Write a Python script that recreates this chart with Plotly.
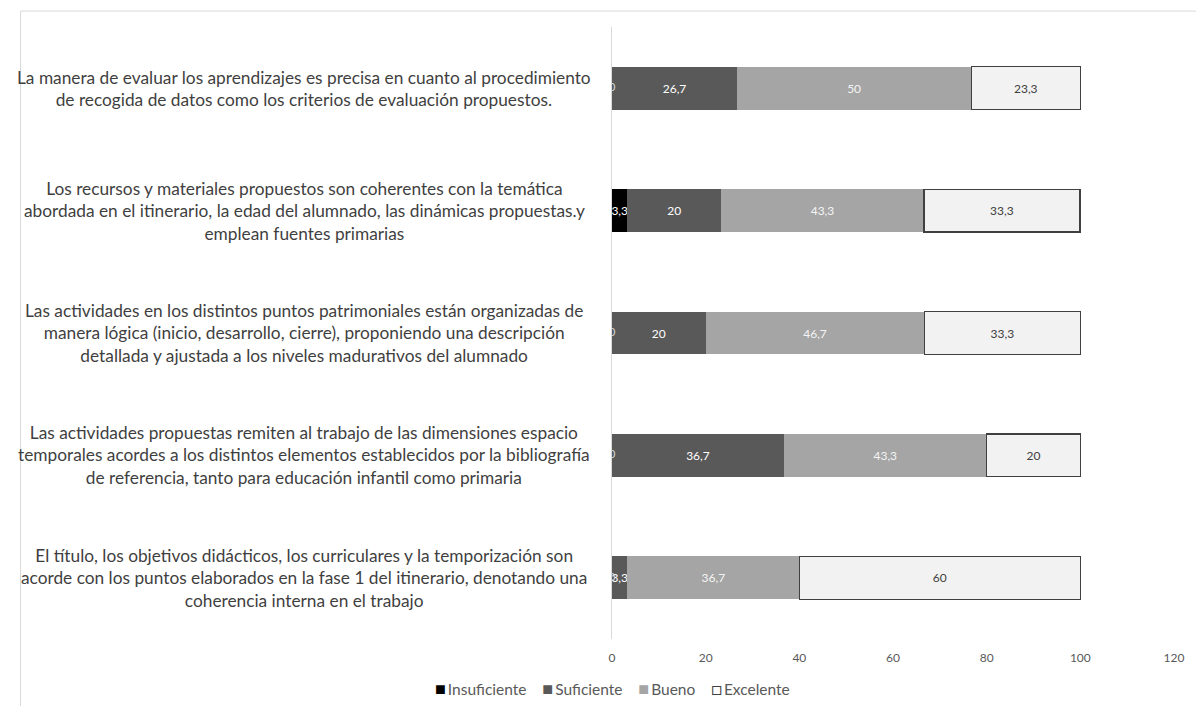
import plotly.graph_objects as go

# Wrapped question texts, one list of lines per row (top to bottom)
label_lines = [
    ["La manera de evaluar los aprendizajes es precisa en cuanto al procedimiento",
     "de recogida de datos como los criterios de evaluación propuestos."],
    ["Los recursos y materiales propuestos son coherentes con la temática",
     "abordada en el itinerario, la edad del alumnado, las dinámicas propuestas.y",
     "emplean fuentes primarias"],
    ["Las actividades en los distintos puntos patrimoniales están organizadas de",
     "manera lógica (inicio, desarrollo, cierre), proponiendo una descripción",
     "detallada y ajustada a los niveles madurativos del alumnado"],
    ["Las actividades propuestas remiten al trabajo de las dimensiones espacio",
     "temporales acordes a los distintos elementos establecidos por la bibliografía",
     "de referencia, tanto para educación infantil como primaria"],
    ["El título, los objetivos didácticos, los curriculares y la temporización son",
     "acorde con los puntos elaborados en la fase 1 del itinerario, denotando una",
     "coherencia interna en el trabajo"],
]
categories = [" ".join(lines) for lines in label_lines]

insuficiente = [0, 3.3, 0, 0, 0]
suficiente = [26.7, 20, 20, 36.7, 3.3]
bueno = [50, 43.3, 46.7, 43.3, 36.7]
excelente = [23.3, 33.3, 33.3, 20, 60]

x_ticks = [0, 20, 40, 60, 80, 100, 120]

FONT = "Lato"


def fmt(v):
    return f"{v:g}".replace(".", ",")


# name, values, fill, label colour, outline, legend key glyph
series = [
    ("Insuficiente", insuficiente, "#000000", "#ffffff", None, "■"),
    ("Suficiente", suficiente, "#595959", "#ffffff", None, "■"),
    ("Bueno", bueno, "#a5a5a5", "#f4f4f4", None, "■"),
    ("Excelente", excelente, "#f2f2f2", "#404040", "#404040", "□"),
]

fig = go.Figure()
for name, vals, color, txtcolor, edge, _ in series:
    fig.add_trace(go.Bar(
        name=name,
        y=categories,
        x=vals,
        orientation="h",
        marker=dict(color=color,
                    line=dict(color=edge or color, width=1.3 if edge else 0)),
        text=[fmt(v) for v in vals],
        textposition="inside",
        insidetextanchor="middle",
        textangle=0,
        constraintext="none",
        textfont=dict(family=FONT, size=12, color=txtcolor),
        cliponaxis=True,
        showlegend=False,
        hoverinfo="x+name",
    ))

# zero-width "Insuficiente" segments still carry their value label at the axis
zero_rows = [c for c, v in zip(categories, insuficiente) if v == 0]
fig.add_trace(go.Scatter(
    x=[0] * len(zero_rows),
    y=zero_rows,
    mode="text",
    text=[fmt(0)] * len(zero_rows),
    textposition="middle center",
    textfont=dict(family=FONT, size=12, color="#d4d4d4"),
    cliponaxis=True,
    showlegend=False,
    hoverinfo="skip",
))

# question texts, centred in the left-hand column
for cat, lines in zip(categories, label_lines):
    fig.add_annotation(
        x=-0.548, xref="paper", y=cat, yref="y",
        text="<br>".join(lines),
        showarrow=False,
        xanchor="center", yanchor="middle", align="center",
        font=dict(family=FONT, size=17.3, color="#3f3f3f"),
    )

# compact legend row: coloured key glyph followed by the series name
legend_items = []
for name, _, color, _, edge, glyph in series:
    key_color = edge or color
    legend_items.append(
        f"<span style='color:{key_color};font-size:18px'>{glyph}</span>\u2009{name}")
fig.add_annotation(
    x=0.0, xref="paper", y=-0.08, yref="paper",
    text="\u00a0\u00a0\u00a0\u00a0".join(legend_items),
    showarrow=False, xanchor="center", yanchor="middle",
    font=dict(family=FONT, size=15.5, color="#595959"),
)

# thin outer frame (top and left edges fall inside the page)
fig.add_shape(type="rect", xref="paper", yref="paper",
              x0=-1.0524, x1=1.06, y0=-0.16, y1=1.026,
              line=dict(color="#d9d9d9", width=1), fillcolor="rgba(0,0,0,0)")

fig.update_layout(
    barmode="stack",
    bargap=0.65,
    width=1196, height=706,
    margin=dict(l=612, r=12, t=27, b=67),
    paper_bgcolor="white",
    plot_bgcolor="white",
    font=dict(family=FONT, color="#595959"),
    showlegend=False,
    xaxis=dict(range=[0, 120], tickvals=x_ticks, ticktext=[str(t) for t in x_ticks],
               showgrid=False, zeroline=False, showline=False, ticks="",
               ticklabelstandoff=10,
               tickfont=dict(family=FONT, size=12, color="#595959")),
    yaxis=dict(autorange="reversed", showticklabels=False, ticks="",
               showgrid=False, zeroline=False, showline=True,
               linecolor="#d9d9d9", linewidth=1),
)

fig.write_html("out.html")
